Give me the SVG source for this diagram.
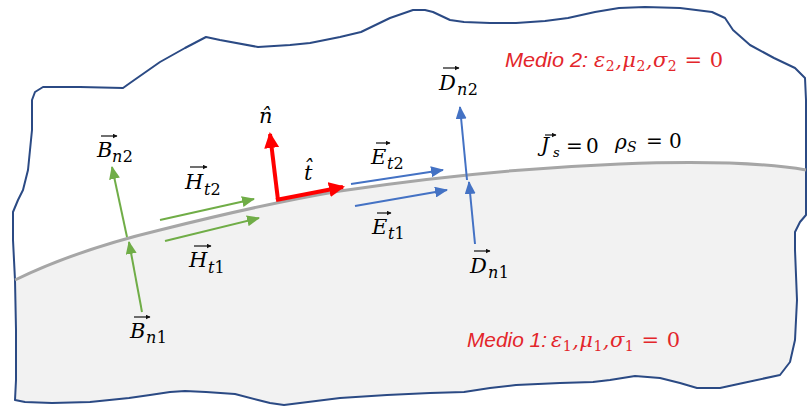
<svg xmlns="http://www.w3.org/2000/svg" width="809" height="411" viewBox="0 0 809 411">
<style>
.outline{fill:none;stroke:#2b4a84;stroke-width:2;stroke-linejoin:round}
.iface{fill:none;stroke:#a6a6a6;stroke-width:3}
.g{stroke:#70ad47;stroke-width:2;fill:none}
.b{stroke:#4472c4;stroke-width:2;fill:none}
.r{stroke:#ff0000;stroke-width:4;fill:none}
.m{font-family:"DejaVu Serif","Liberation Serif",serif;font-style:italic;fill:#000}
.big{font-size:21px}
.sub{font-size:16px}
.up{font-style:normal}
.acc{stroke:#111;stroke-width:1.2;fill:none}
.red{fill:#e3262b}
.lbl{font-family:"Liberation Sans",Arial,sans-serif;font-style:italic;font-size:20px}
</style>
<defs>
<marker id="mg" markerUnits="userSpaceOnUse" markerWidth="13" markerHeight="11" refX="12" refY="5.5" orient="auto"><path d="M0,0 L13,5.5 L0,11 z" fill="#70ad47"/></marker>
<marker id="mb" markerUnits="userSpaceOnUse" markerWidth="13" markerHeight="11" refX="12" refY="5.5" orient="auto"><path d="M0,0 L13,5.5 L0,11 z" fill="#4472c4"/></marker>
<marker id="mr" markerUnits="userSpaceOnUse" markerWidth="16" markerHeight="15" refX="14" refY="7.5" orient="auto"><path d="M0,0 L16,7.5 L0,15 z" fill="#ff0000"/></marker>
<marker id="ma" markerUnits="userSpaceOnUse" markerWidth="5" markerHeight="5" refX="4.5" refY="2.5" orient="auto"><path d="M0,0 L5,2.5 L0,5 z" fill="#111"/></marker>
</defs>

<g id="medium1-fill">
<path d="M15,280 C60,258 110,242 160,230 C220,215 280,201 340,191 C420,179 520,168 620,164 C700,161 760,162 806,170 L806,215 L800,222 L795,232 L795,250 L797,300 L795,340 L790,362 L780,375 L743,383 L720,388 L697,388 L680,383 L660,378 L635,376 L610,380 L593,382 L560,383 L516,385 L490,388 L464,392 L430,393 L387,395 L340,398 L300,403 L284,405 L270,403 L258,400 L235,394 L206,392 L185,391 L170,392 L150,395 L129,398 L90,402 L52,403 L25,402 L15,400 L16,380 L16,330 Z" fill="#f2f2f2"/>
</g>

<g id="boundary">
<path class="outline" d="M28,170 L32,130 L32,100 L35,92 L43,87 L80,87 L123,88 L130,83 L160,62 L185,48 L206,37 L220,40 L258,47 L290,45 L310,43 L340,37 L361,32 L390,18 L413,10 L425,10 L433,12 L450,20 L464,22 L490,23 L516,23 L545,21 L568,18 L595,12 L619,8 L645,7 L680,8 L712,12 L725,18 L733,30 L750,45 L774,58 L795,68 L805,78 L806,100 L806,215 L800,222 L795,232 L795,250 L797,300 L795,340 L790,362 L780,375 L743,383 L720,388 L697,388 L680,383 L660,378 L635,376 L610,380 L593,382 L560,383 L516,385 L490,388 L464,392 L430,393 L387,395 L340,398 L300,403 L284,405 L270,403 L258,400 L235,394 L206,392 L185,391 L170,392 L150,395 L129,398 L90,402 L52,403 L25,402 L15,400 L16,380 L16,330 L15,280 L13,240 L13,212 L18,200 L23,190 Z"/>
</g>

<g id="interface">
<path class="iface" d="M15,280 C60,258 110,242 160,230 C220,215 280,201 340,191 C420,179 520,168 620,164 C700,161 760,162 806,170"/>
</g>

<g id="connectors">
<line class="g" x1="127" y1="237" x2="112" y2="167" marker-end="url(#mg)"/>
<line class="g" x1="142" y1="312" x2="129" y2="242" marker-end="url(#mg)"/>
<line class="g" x1="160" y1="220" x2="254" y2="199" marker-end="url(#mg)"/>
<line class="g" x1="165" y1="241" x2="259" y2="218" marker-end="url(#mg)"/>
<line class="b" x1="351" y1="184" x2="443" y2="170" marker-end="url(#mb)"/>
<line class="b" x1="355" y1="206" x2="447" y2="190" marker-end="url(#mb)"/>
<line class="b" x1="467" y1="180" x2="460" y2="107" marker-end="url(#mb)"/>
<line class="b" x1="475" y1="244" x2="469" y2="182" marker-end="url(#mb)"/>
<line class="r" x1="278" y1="200" x2="270" y2="134" marker-end="url(#mr)"/>
<line class="r" x1="276" y1="200" x2="343" y2="187" marker-end="url(#mr)"/>
</g>

<g id="label-Bn2">
<line class="acc" x1="101" y1="136" x2="117" y2="136" marker-end="url(#ma)"/>
<text class="m big" x="97" y="157">B</text>
<text class="m sub" x="112" y="162" letter-spacing="0.5">n<tspan class="up">2</tspan></text>
</g>
<g id="label-Bn1">
<line class="acc" x1="134" y1="317" x2="150" y2="317" marker-end="url(#ma)"/>
<text class="m big" x="130" y="338">B</text>
<text class="m sub" x="146" y="343" letter-spacing="0.5">n<tspan class="up">1</tspan></text>
</g>
<g id="label-Ht2">
<line class="acc" x1="190" y1="167" x2="207" y2="167" marker-end="url(#ma)"/>
<text class="m big" x="185" y="189">H</text>
<text class="m sub" x="204" y="195">t<tspan class="up">2</tspan></text>
</g>
<g id="label-Ht1">
<line class="acc" x1="194" y1="246" x2="211" y2="246" marker-end="url(#ma)"/>
<text class="m big" x="189" y="267">H</text>
<text class="m sub" x="208" y="273">t<tspan class="up">1</tspan></text>
</g>
<g id="label-n">
<text class="m big" x="259" y="123">n&#x302;</text>
</g>
<g id="label-t">
<text class="m big" x="304" y="180">t&#x302;</text>
</g>
<g id="label-Et2">
<line class="acc" x1="376" y1="143" x2="390" y2="143" marker-end="url(#ma)"/>
<text class="m big" x="371" y="164">E</text>
<text class="m sub" x="387" y="169">t<tspan class="up">2</tspan></text>
</g>
<g id="label-Et1">
<line class="acc" x1="377" y1="213" x2="391" y2="213" marker-end="url(#ma)"/>
<text class="m big" x="372" y="234">E</text>
<text class="m sub" x="388" y="239">t<tspan class="up">1</tspan></text>
</g>
<g id="label-Dn2">
<line class="acc" x1="443" y1="68" x2="459" y2="68" marker-end="url(#ma)"/>
<text class="m big" x="439" y="90">D</text>
<text class="m sub" x="457" y="95" letter-spacing="0.5">n<tspan class="up">2</tspan></text>
</g>
<g id="label-Dn1">
<line class="acc" x1="474" y1="251" x2="490" y2="251" marker-end="url(#ma)"/>
<text class="m big" x="470" y="273">D</text>
<text class="m sub" x="488" y="278" letter-spacing="0.5">n<tspan class="up">1</tspan></text>
</g>
<g id="label-surface">
<line class="acc" x1="545" y1="135" x2="556" y2="135" marker-end="url(#ma)"/>
<text class="m" font-size="20" x="541" y="152">J</text>
<text class="m" font-size="13" x="553" y="157">s</text>
<text class="m up" font-size="20" x="566" y="153">=</text>
<text class="m up" font-size="20" x="586" y="153">0</text>
<text class="m" font-size="20" x="615" y="149">ρ</text>
<text class="m" font-size="14" x="627" y="152">S</text>
<text class="m up" font-size="20" x="646" y="148">=</text>
<text class="m up" font-size="20" x="669" y="148">0</text>
</g>
<g id="label-medio2">
<text class="lbl red" x="505" y="67" textLength="83" lengthAdjust="spacingAndGlyphs">Medio 2:</text>
<text class="m red" font-size="21" x="594" y="67" textLength="129" lengthAdjust="spacing">ε<tspan font-size="14" dy="4" class="up">2</tspan><tspan dy="-4">,μ</tspan><tspan font-size="14" dy="4" class="up">2</tspan><tspan dy="-4">,σ</tspan><tspan font-size="14" dy="4" class="up">2</tspan><tspan dy="-4" class="up"> = 0</tspan></text>
</g>
<g id="label-medio1">
<text class="lbl red" x="467" y="347" textLength="80" lengthAdjust="spacingAndGlyphs">Medio 1:</text>
<text class="m red" font-size="21" x="551" y="347" textLength="129" lengthAdjust="spacing">ε<tspan font-size="14" dy="4" class="up">1</tspan><tspan dy="-4">,μ</tspan><tspan font-size="14" dy="4" class="up">1</tspan><tspan dy="-4">,σ</tspan><tspan font-size="14" dy="4" class="up">1</tspan><tspan dy="-4" class="up"> = 0</tspan></text>
</g>
</svg>
